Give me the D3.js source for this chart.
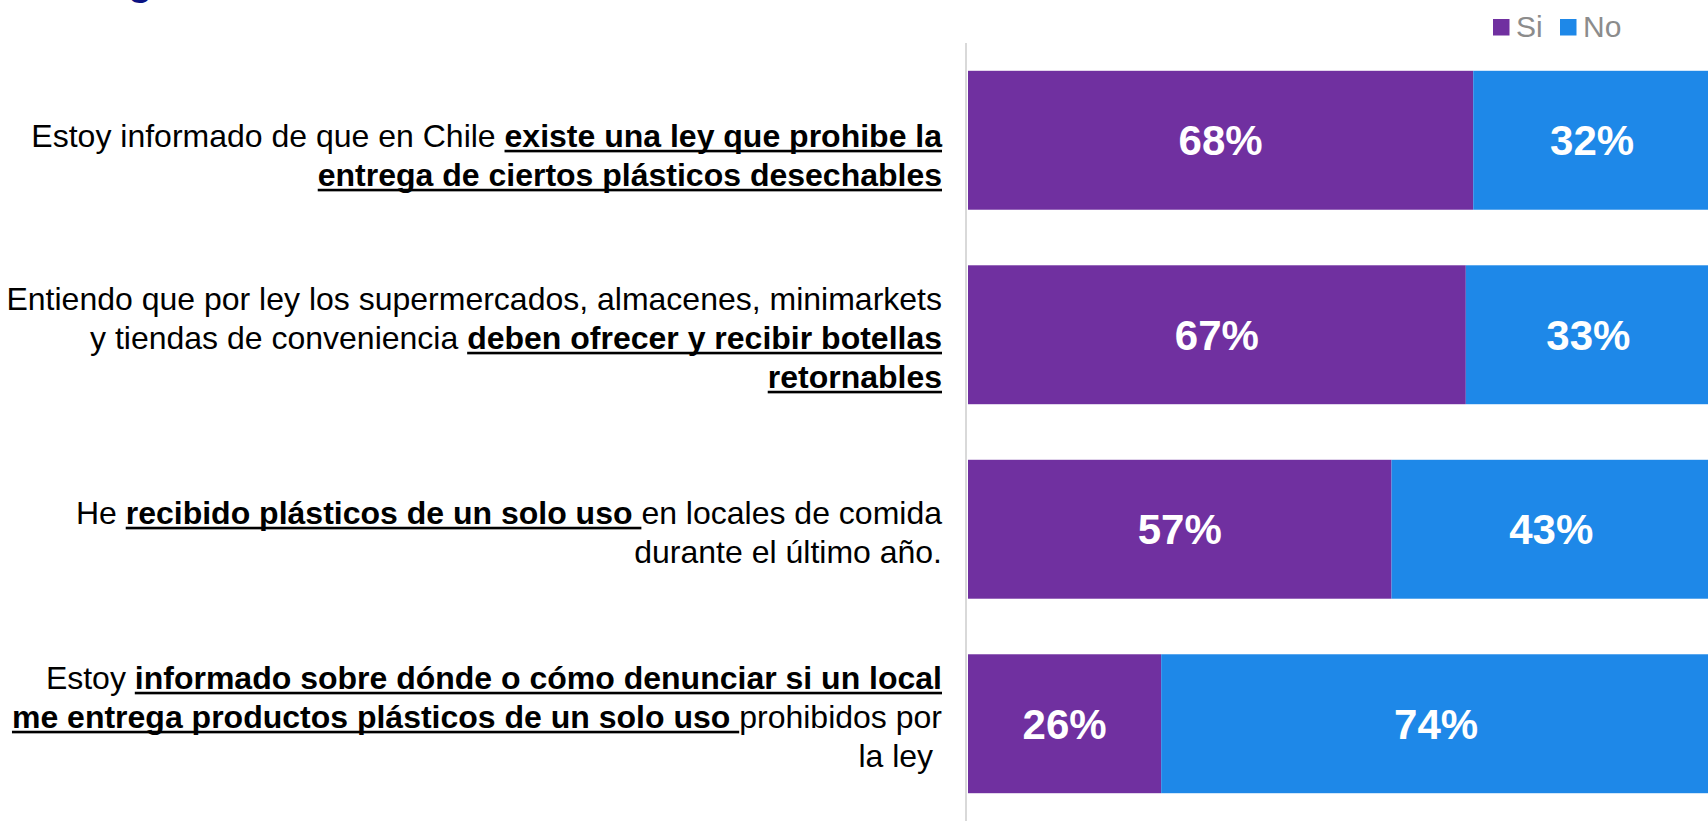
<!DOCTYPE html>
<html>
<head>
<meta charset="utf-8">
<script src="https://cdn.jsdelivr.net/npm/d3@7"></script>
<style>
  html, body { margin: 0; padding: 0; background: #fff; }
  svg { display: block; font-family: "Liberation Sans", Arial, sans-serif; }
  text { white-space: pre; }
</style>
</head>
<body>
<svg id="chart" width="1708" height="821"></svg>
<script>
// datos
const categories = ['ley', 'retornables', 'recibido', 'denunciar'];
const siValues = [68, 67, 57, 26];
const noValues = [32, 33, 43, 74];
const seriesNames = ['Si', 'No'];
// cada etiqueta: lineas -> segmentos [texto, negrita/subrayado]
const labelLines = [
    [
        [['Estoy informado de que en Chile ', 0], ['existe una ley que prohibe la', 1]],
        [['entrega de ciertos plásticos desechables', 1]]
    ],
    [
        [['Entiendo que por ley los supermercados, almacenes, minimarkets', 0]],
        [['y tiendas de conveniencia ', 0], ['deben ofrecer y recibir botellas', 1]],
        [['retornables', 1]]
    ],
    [
        [['He ', 0], ['recibido plásticos de un solo uso ', 1], ['en locales de comida', 0]],
        [['durante el último año.', 0]]
    ],
    [
        [['Estoy ', 0], ['informado sobre dónde o cómo denunciar si un local', 1]],
        [['me entrega productos plásticos de un solo uso ', 1], ['prohibidos por', 0]],
        [['la ley ', 0]]
    ]
];

const colors = { Si: '#7030A0', No: '#1E88E8' };
const labelShift = [15, 3, 3, -7];
const lineHeight = 39;
const labelRight = 942;

const svg = d3.select('#chart');

const rows = categories.map((c, i) => ({ cat: c, Si: siValues[i], No: noValues[i] }));
const stacked = d3.stack().keys(seriesNames)(rows);

// la barra sigue un poco mas alla del borde derecho
const x = d3.scaleLinear().domain([0, 100]).range([968, 1711]);
const y = d3.scaleBand().domain(categories).range([43, 821])
    .paddingInner(0.2857).paddingOuter(0.1429);

// trozo del titulo cortado arriba
svg.append('text')
    .attr('x', 128).attr('y', -5)
    .attr('font-size', 40).attr('font-weight', 'bold')
    .attr('fill', '#0B1283')
    .text('g');

// barras apiladas
stacked.forEach(s => {
    const g = svg.append('g').attr('fill', colors[s.key]);
    g.selectAll('rect')
        .data(s)
        .join('rect')
        .attr('x', d => x(d[0]))
        .attr('y', d => y(d.data.cat))
        .attr('width', d => x(d[1]) - x(d[0]))
        .attr('height', y.bandwidth());

    svg.append('g')
        .selectAll('text')
        .data(s)
        .join('text')
        .attr('x', d => (x(d[0]) + x(d[1])) / 2)
        .attr('y', d => y(d.data.cat) + y.bandwidth() / 2)
        .attr('dy', '0.36em')
        .attr('text-anchor', 'middle')
        .attr('fill', '#fff')
        .attr('font-size', 42)
        .attr('font-weight', 'bold')
        .text(d => (d[1] - d[0]) + '%');
});

// linea del eje
svg.append('line')
    .attr('x1', 966).attr('x2', 966)
    .attr('y1', y.range()[0]).attr('y2', y.range()[1])
    .attr('stroke', '#D9D9D9').attr('stroke-width', 2);

// etiquetas de categorias
function measure(str, bold) {
    const t = svg.append('text')
        .attr('font-size', 32)
        .attr('font-weight', bold ? 'bold' : 'normal')
        .text(str);
    const w = t.node().getComputedTextLength();
    t.remove();
    return w;
}

const labels = svg.append('g');
categories.forEach((cat, i) => {
    const lines = labelLines[i];
    const yc = y(cat) + y.bandwidth() / 2 + labelShift[i];
    lines.forEach((segs, j) => {
        const base = yc + (j - (lines.length - 1) / 2) * lineHeight + 11;
        const widths = segs.map(s => measure(s[0], s[1]));
        let cx = labelRight - d3.sum(widths);
        segs.forEach((s, k) => {
            labels.append('text')
                .attr('x', cx).attr('y', base)
                .attr('font-size', 32)
                .attr('font-weight', s[1] ? 'bold' : 'normal')
                .attr('fill', '#000')
                .text(s[0]);
            if (s[1]) {
                labels.append('rect')
                    .attr('x', cx).attr('y', base + 3)
                    .attr('width', widths[k]).attr('height', 2.6)
                    .attr('fill', '#000');
            }
            cx += widths[k];
        });
    });
});

// leyenda
const legend = svg.append('g');
const legendX = [1493, 1560];
seriesNames.forEach((name, i) => {
    legend.append('rect')
        .attr('x', legendX[i]).attr('y', 19)
        .attr('width', 16.5).attr('height', 16.5)
        .attr('fill', colors[name]);
    legend.append('text')
        .attr('x', legendX[i] + 23).attr('y', 37)
        .attr('font-size', 30)
        .attr('fill', '#8C8C8C')
        .text(name);
});
</script>
</body>
</html>
